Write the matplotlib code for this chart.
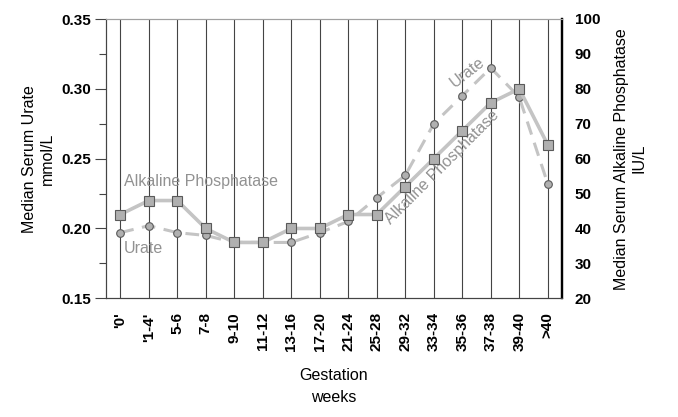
import matplotlib
matplotlib.use("Agg")
import matplotlib.pyplot as plt
import numpy as np

plt.rcParams["font.family"] = ["Liberation Sans", "DejaVu Sans"]

weeks = ["'0'", "'1-4'", "5-6", "7-8", "9-10", "11-12", "13-16", "17-20",
         "21-24", "25-28", "29-32", "33-34", "35-36", "37-38", "39-40", ">40"]
urate = [0.197, 0.202, 0.197, 0.195, 0.190, 0.190, 0.190, 0.197,
         0.205, 0.222, 0.238, 0.275, 0.295, 0.315, 0.294, 0.232]
alk_phos = [44, 48, 48, 40, 36, 36, 40, 40, 44, 44, 52, 60, 68, 76, 80, 64]

LINE = "#c4c4c4"
MARK = "#b0b0b0"
EDGE = "#5a5a5a"
TXT = "#929292"

fig = plt.figure(figsize=(6.78, 4.17), dpi=100)
ax = fig.add_axes([106 / 678, 1 - 298.3 / 417, 456 / 678, 279.3 / 417])
ax2 = ax.twinx()

x = np.arange(len(weeks))
for xi in x:
    ax.axvline(xi, color="#444444", lw=0.8, zorder=0)

# urate on the left axis, alkaline phosphatase on the right one
ax.plot(x, urate, ls=(0, (4.5, 2.8)), color=LINE, lw=2.2, marker="o", ms=5.5,
        mfc=MARK, mec=EDGE, mew=0.8, zorder=3)
ax2.plot(x, alk_phos, ls="-", color=LINE, lw=2.6, marker="s", ms=7,
         mfc=MARK, mec=EDGE, mew=0.8, zorder=3)

ax.set_xlim(-0.5, len(weeks) - 0.5)
ax.set_ylim(0.15, 0.35)
ax2.set_ylim(20, 100)

ax.set_yticks(np.arange(0.15, 0.351, 0.05))
ax.set_yticks(np.arange(0.15, 0.351, 0.025), minor=True)
ax.set_yticklabels([f"{v:.2f}" for v in np.arange(0.15, 0.351, 0.05)],
                   fontsize=11, fontweight="bold")
ax.tick_params(axis="y", which="major", length=8, width=0.8, color="#444444", pad=3)
ax.tick_params(axis="y", which="minor", length=5, width=0.8, color="#444444")

ax.set_xticks(x)
ax.set_xticklabels(weeks, rotation=90, fontsize=11, fontweight="bold")
ax.tick_params(axis="x", length=0, pad=10)

ax2.set_yticks(np.arange(20, 101, 10))
ax2.set_yticklabels([str(v) for v in range(20, 101, 10)], fontsize=11, fontweight="bold")
ax2.tick_params(axis="y", length=0, pad=9)

for a in (ax, ax2):
    a.spines["top"].set_color("#a0a0a0")
    a.spines["left"].set_color("#444444")
    a.spines["bottom"].set_color("#444444")
    a.spines["right"].set_color("#000000")
    a.spines["right"].set_linewidth(1.6)

ax.set_ylabel("Median Serum Urate\nmmol/L", fontsize=11.5, labelpad=4, linespacing=1.25)
ax2.set_ylabel("Median Serum Alkaline Phosphatase\nIU/L", fontsize=11.5, labelpad=10,
               linespacing=1.25)
ax.set_xlabel("Gestation\nweeks", fontsize=11.5, labelpad=12, linespacing=1.6)

ax.text(0.13, 0.2335, "Alkaline Phosphatase", color=TXT, fontsize=11.5,
        ha="left", va="center")
ax.text(0.13, 0.186, "Urate", color=TXT, fontsize=11.5, ha="left", va="center")
ax.text(12.19, 0.312, "Urate", color=TXT, fontsize=11.5, ha="center", va="center",
        rotation=38, rotation_mode="anchor")
ax.text(11.29, 0.244, "Alkaline Phosphatase", color=TXT, fontsize=11.5,
        ha="center", va="center", rotation=45, rotation_mode="anchor")

fig.savefig("out.png", dpi=100)
